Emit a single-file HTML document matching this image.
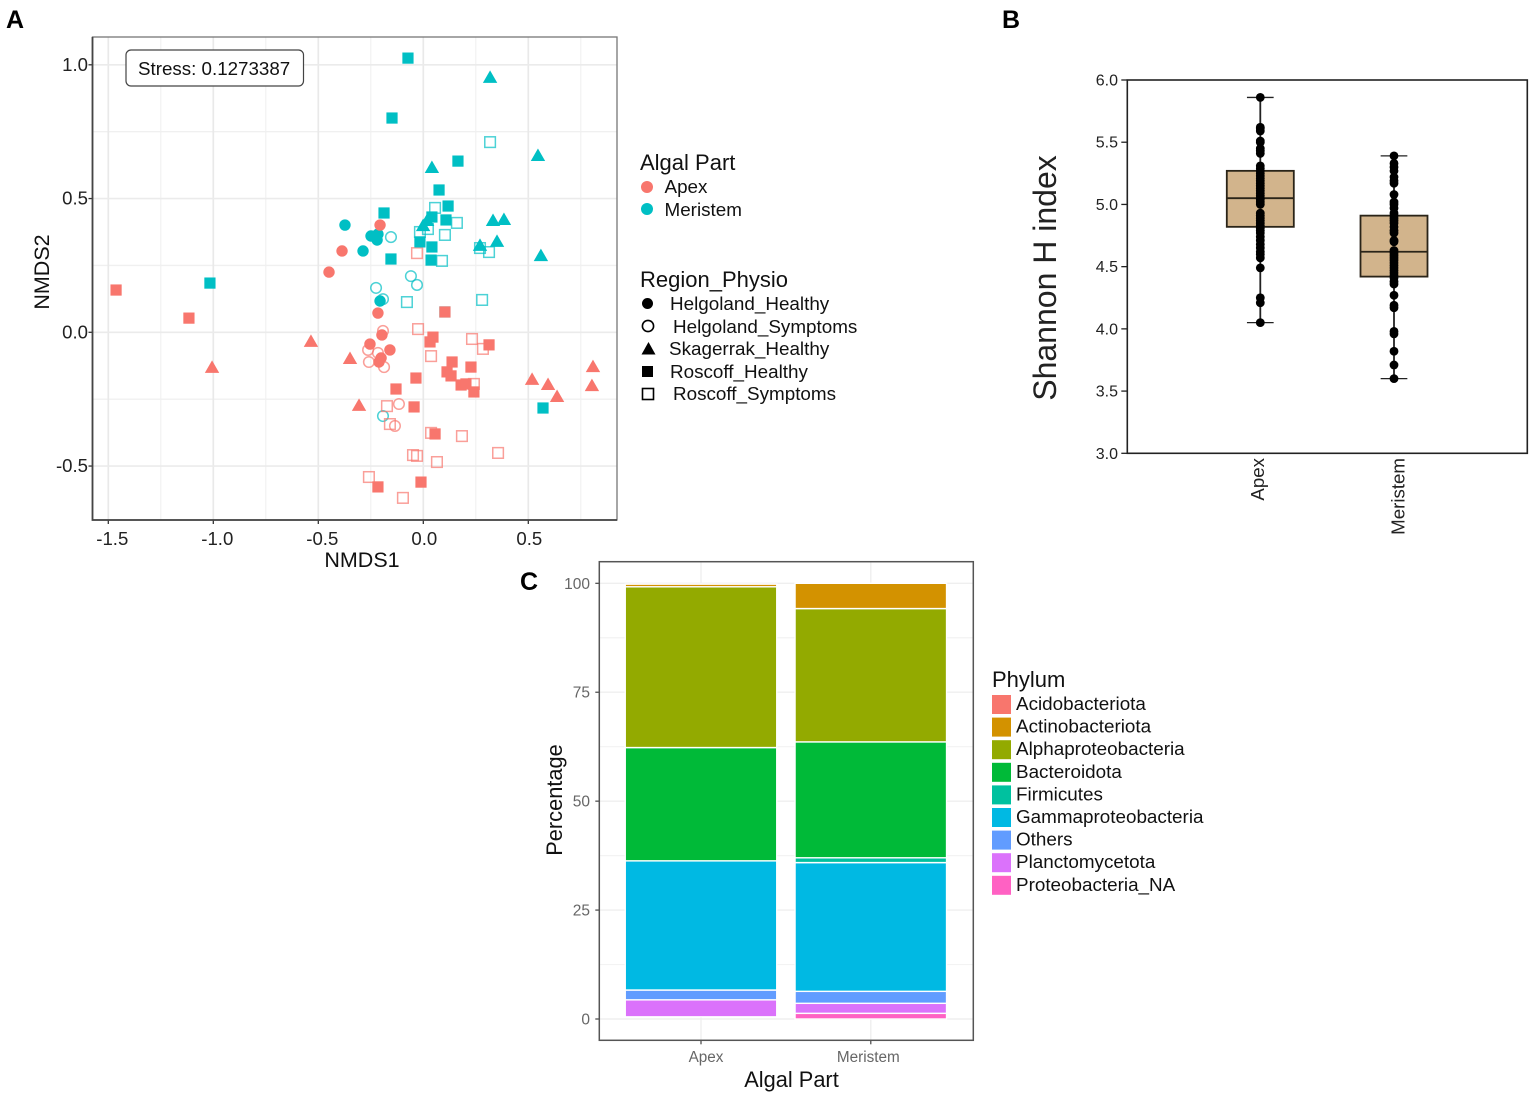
<!DOCTYPE html>
<html lang="en">
<head>
<meta charset="utf-8">
<title>NMDS, Shannon index and phylum composition</title>
<style>
html,body{margin:0;padding:0;background:#fff;width:1535px;height:1095px;overflow:hidden}
svg{display:block;position:absolute;left:0;top:0;filter:blur(0.35px)}
text{font-family:"Liberation Sans",Arial,sans-serif}
.letter{font-size:25px;font-weight:bold;fill:#000}
.lg-title{font-size:22px}
.lg-item{font-size:18.85px}
</style>
</head>
<body>
<svg id="figure" xmlns="http://www.w3.org/2000/svg" width="1535" height="1095" viewBox="0 0 1535 1095" fill="#111">
  <text class="letter" x="6" y="28">A</text>
  <text class="letter" x="1002" y="28">B</text>
  <text class="letter" x="520" y="590">C</text>

  <g id="panelA"></g>
  <g id="panelB"></g>
  <g id="panelC"></g>

  <g>
    <text class="lg-title" x="640" y="170">Algal Part</text>
    <circle cx="647" cy="187" r="6" fill="#F8766D"/>
    <text class="lg-item" x="664.5" y="193">Apex</text>
    <circle cx="647" cy="209" r="6" fill="#00BFC4"/>
    <text class="lg-item" x="664.5" y="216">Meristem</text>
  </g>
  <g>
    <text class="lg-title" x="640" y="287">Region_Physio</text>
    <circle cx="647.5" cy="303.5" r="5.5" fill="#000"/>
    <text class="lg-item" x="670" y="310">Helgoland_Healthy</text>
    <circle cx="648" cy="326" r="5.6" fill="none" stroke="#000" stroke-width="1.6"/>
    <text class="lg-item" x="673" y="333">Helgoland_Symptoms</text>
    <polygon points="648.5,342 655.5,354.5 641.5,354.5" fill="#000"/>
    <text class="lg-item" x="669" y="355">Skagerrak_Healthy</text>
    <rect x="642" y="366" width="11" height="11" fill="#000"/>
    <text class="lg-item" x="670" y="378">Roscoff_Healthy</text>
    <rect x="642.5" y="388.5" width="11" height="11" fill="none" stroke="#000" stroke-width="1.6"/>
    <text class="lg-item" x="673" y="400">Roscoff_Symptoms</text>
  </g>
  <g>
    <text class="lg-title" x="992" y="687">Phylum</text>
    <rect x="992" y="695" width="19" height="19" fill="#F8766D"/>
    <text class="lg-item" x="1016" y="710">Acidobacteriota</text>
    <rect x="992" y="717.6" width="19" height="19" fill="#D39200"/>
    <text class="lg-item" x="1016" y="732.6">Actinobacteriota</text>
    <rect x="992" y="740.2" width="19" height="19" fill="#93AA00"/>
    <text class="lg-item" x="1016" y="755.2">Alphaproteobacteria</text>
    <rect x="992" y="762.8" width="19" height="19" fill="#00BA38"/>
    <text class="lg-item" x="1016" y="777.8">Bacteroidota</text>
    <rect x="992" y="785.4" width="19" height="19" fill="#00C19F"/>
    <text class="lg-item" x="1016" y="800.4">Firmicutes</text>
    <rect x="992" y="808" width="19" height="19" fill="#00B9E3"/>
    <text class="lg-item" x="1016" y="823">Gammaproteobacteria</text>
    <rect x="992" y="830.6" width="19" height="19" fill="#619CFF"/>
    <text class="lg-item" x="1016" y="845.6">Others</text>
    <rect x="992" y="853.2" width="19" height="19" fill="#DB72FB"/>
    <text class="lg-item" x="1016" y="868.2">Planctomycetota</text>
    <rect x="992" y="875.8" width="19" height="19" fill="#FF61C3"/>
    <text class="lg-item" x="1016" y="890.8">Proteobacteria_NA</text>
  </g>
</svg>

<script>
/* ---------- Panel A data: NMDS1, NMDS2 per sample ---------- */
const nmdsMajorTicks = [-1.5, -1.0, -0.5, 0.0, 0.5];
const nmdsYTicks = [-0.5, 0.0, 0.5, 1.0];
const nmdsXMinor = [-1.25, -0.75, -0.25, 0.25, 0.75];
const nmdsYMinor = [-0.25, 0.25, 0.75];
const meristemRoscoffSymptoms = [[0.318,0.711],[0.056,0.465],[0.160,0.409],[-0.016,0.375],[0.022,0.386],[0.103,0.364],[0.270,0.315],[0.313,0.300],[0.089,0.267],[-0.078,0.113],[0.280,0.121]];
const meristemHelgolandSymptoms = [[-0.154,0.356],[-0.059,0.210],[-0.225,0.166],[-0.030,0.177],[-0.192,0.124],[-0.192,-0.313]];
const apexRoscoffSymptoms = [[-0.030,0.296],[-0.025,0.012],[0.232,-0.025],[0.284,-0.062],[0.037,-0.089],[0.241,-0.193],[-0.173,-0.276],[-0.159,-0.343],[0.037,-0.376],[0.184,-0.388],[0.356,-0.451],[-0.049,-0.459],[-0.030,-0.462],[0.065,-0.485],[-0.259,-0.541],[-0.097,-0.619]];
const apexHelgolandSymptoms = [[-0.192,0.005],[-0.263,-0.066],[-0.216,-0.077],[-0.259,-0.111],[-0.187,-0.130],[-0.116,-0.268],[-0.135,-0.350]];
const meristemRoscoffHealthy = [[-0.073,1.025],[-0.149,0.801],[0.165,0.640],[0.075,0.532],[0.118,0.472],[-0.187,0.446],[0.041,0.431],[0.108,0.420],[-0.016,0.338],[0.041,0.319],[-0.154,0.274],[0.037,0.270],[-1.016,0.184],[0.570,-0.283],[0.103,0.076]];
const meristemSkagerrakHealthy = [[0.318,0.951],[0.546,0.659],[0.041,0.614],[0.332,0.416],[0.384,0.420],[0.018,0.416],[-0.001,0.397],[0.270,0.323],[0.351,0.338],[0.560,0.285]];
const meristemHelgolandHealthy = [[-0.373,0.401],[-0.287,0.304],[-0.249,0.360],[-0.220,0.345],[-0.216,0.367],[-0.206,0.117]];
const apexHelgolandHealthy = [[-0.206,0.401],[-0.387,0.304],[-0.449,0.225],[-0.216,0.072],[-0.197,-0.010],[-0.254,-0.044],[-0.159,-0.066],[-0.211,-0.111],[-0.201,-0.096]];
const apexSkagerrakHealthy = [[-0.535,-0.036],[-0.349,-0.100],[-1.006,-0.133],[-0.306,-0.275],[0.518,-0.178],[0.594,-0.197],[0.637,-0.242],[0.808,-0.130],[0.803,-0.201]];
const apexRoscoffHealthy = [[-1.463,0.158],[-1.116,0.053],[0.103,0.076],[0.046,-0.018],[0.032,-0.036],[0.313,-0.047],[0.137,-0.111],[0.227,-0.130],[0.113,-0.148],[0.132,-0.163],[-0.035,-0.171],[0.180,-0.197],[0.203,-0.193],[0.241,-0.223],[-0.130,-0.212],[-0.044,-0.279],[0.056,-0.380],[-0.216,-0.578],[-0.011,-0.560]];
const stressLabel = "Stress: 0.1273387";

/* ---------- Panel B data ---------- */
const boxCategories = ["Apex", "Meristem"];
const boxYTicks = [3.0, 3.5, 4.0, 4.5, 5.0, 5.5, 6.0];
const boxQ1 = [4.82, 4.42];
const boxMedian = [5.05, 4.62];
const boxQ3 = [5.27, 4.91];
const boxWhiskerLow = [4.05, 3.60];
const boxWhiskerHigh = [5.86, 5.39];
const apexShannon = [5.86,5.62,5.61,5.59,5.51,5.50,5.45,5.43,5.41,5.31,5.29,5.27,5.25,5.23,5.21,5.19,5.17,5.15,5.13,5.11,5.09,5.07,5.05,5.04,5.02,5.00,4.93,4.91,4.89,4.87,4.85,4.83,4.81,4.79,4.77,4.74,4.71,4.68,4.65,4.62,4.60,4.57,4.49,4.25,4.21,4.05];
const meristemShannon = [5.39,5.33,5.30,5.27,5.22,5.19,5.17,5.08,5.02,5.00,4.97,4.93,4.91,4.89,4.87,4.85,4.82,4.79,4.77,4.71,4.70,4.63,4.61,4.59,4.57,4.55,4.53,4.51,4.49,4.47,4.45,4.43,4.41,4.38,4.36,4.27,4.19,4.17,3.98,3.96,3.82,3.71,3.60];

/* ---------- Panel C data: stacked from the bottom up ---------- */
const barCategories = ["Apex", "Meristem"];
const barYTicks = [0, 25, 50, 75, 100];
const barYMinor = [12.5, 37.5, 62.5, 87.5];
const barStackBase = [0.5, 0];
const proteobacteriaNA = [0, 1.3];
const planctomycetota = [3.9, 2.3];
const others = [2.25, 2.75];
const gammaproteobacteria = [29.65, 29.55];
const firmicutes = [0, 1.1];
const bacteroidota = [26, 26.6];
const alphaproteobacteria = [36.9, 30.6];
const actinobacteriota = [0.6, 5.8];
const acidobacteriota = [0, 0];

const NS = "http://www.w3.org/2000/svg";
function mk(tag, attrs, parent, txt) {
  const el = document.createElementNS(NS, tag);
  for (const k in attrs) el.setAttribute(k, attrs[k]);
  if (txt !== undefined) el.textContent = txt;
  parent.appendChild(el);
  return el;
}
function slug(v) { return String(v).replace(/[^0-9a-zA-Z]+/g, "-").replace(/^-|-$/g, "").toLowerCase(); }

/* ---------- Panel A ---------- */
(function () {
  const g = document.getElementById("panelA");
  const L = 92.5, R = 617, T = 37, B = 520;
  const sx = v => 423.3 + 210 * v;
  const sy = v => 332.3 - 267.5 * v;
  let el;
  nmdsXMinor.forEach(v => {
    el = mk("line", {x1: sx(v), x2: sx(v), y1: T, y2: B, stroke: "#f1f1f1", "stroke-width": 1.2}, g);
    
    
  });
  nmdsYMinor.forEach(v => {
    el = mk("line", {x1: L, x2: R, y1: sy(v), y2: sy(v), stroke: "#f0f0f0", "stroke-width": 1.4}, g);
    
    
  });
  nmdsMajorTicks.forEach(v => {
    el = mk("line", {x1: sx(v), x2: sx(v), y1: T, y2: B, stroke: "#e9e9e9", "stroke-width": 1.7}, g);
    
    
    el = mk("line", {x1: sx(v), x2: sx(v), y1: B, y2: B + 4, stroke: "#333", "stroke-width": 1.3}, g);
    
    
    el = mk("text", {x: sx(v) + (v < 0 ? 4 : 1), y: 545, "text-anchor": "middle", "font-size": 18.6, fill: "#222"}, g, v.toFixed(1));
    
    
  });
  nmdsYTicks.forEach(v => {
    el = mk("line", {x1: L, x2: R, y1: sy(v), y2: sy(v), stroke: "#ebebeb", "stroke-width": 1.6}, g);
    
    
    el = mk("line", {x1: L - 4, x2: L, y1: sy(v), y2: sy(v), stroke: "#333", "stroke-width": 1.3}, g);
    
    
    el = mk("text", {x: 88, y: sy(v) + 6, "text-anchor": "end", "font-size": 18.6, fill: "#222"}, g, v.toFixed(1));
    
    
  });

  const groups = [
    [meristemRoscoffSymptoms, "square", true, "#00BFC4", "meristem-roscoff-symptoms"],
    [meristemHelgolandSymptoms, "circle", true, "#00BFC4", "meristem-helgoland-symptoms"],
    [apexRoscoffSymptoms, "square", true, "#F8766D", "apex-roscoff-symptoms"],
    [apexHelgolandSymptoms, "circle", true, "#F8766D", "apex-helgoland-symptoms"],
    [meristemRoscoffHealthy, "square", false, "#00BFC4", "meristem-roscoff-healthy"],
    [meristemSkagerrakHealthy, "triangle", false, "#00BFC4", "meristem-skagerrak-healthy"],
    [meristemHelgolandHealthy, "circle", false, "#00BFC4", "meristem-helgoland-healthy"],
    [apexHelgolandHealthy, "circle", false, "#F8766D", "apex-helgoland-healthy"],
    [apexSkagerrakHealthy, "triangle", false, "#F8766D", "apex-skagerrak-healthy"],
    [apexRoscoffHealthy, "square", false, "#F8766D", "apex-roscoff-healthy"]
  ];
  groups.forEach(([pts, shape, open, col, name]) => {
    pts.forEach(p => {
      const cx = sx(p[0]), cy = sy(p[1]);
      const paint = open
        ? {fill: "none", stroke: col, "stroke-width": 1.5, "stroke-opacity": 0.7}
        : {fill: col};
      let m;
      if (shape === "circle") m = mk("circle", Object.assign({cx: cx, cy: cy, r: open ? 5.3 : 5.7}, paint), g);
      else if (shape === "square") m = mk("rect", Object.assign({x: cx - (open ? 5.3 : 5.6), y: cy - (open ? 5.3 : 5.6), width: open ? 10.6 : 11.2, height: open ? 10.6 : 11.2}, paint), g);
      else m = mk("polygon", Object.assign({points: [[cx, cy - 7.5], [cx + 7.2, cy + 5], [cx - 7.2, cy + 5]].map(q => q.join(",")).join(" ")}, paint), g);
      
      
    });
  });

  el = mk("rect", {x: L, y: T, width: R - L, height: B - T, fill: "none", stroke: "#777", "stroke-width": 1.3}, g);
  
  
  el = mk("path", {d: `M${L} ${T}V${B}H${R}`, fill: "none", stroke: "#444", "stroke-width": 1.8}, g);
  
  
  el = mk("rect", {x: 126, y: 50, width: 177.5, height: 36, rx: 5, ry: 5, fill: "#fff", stroke: "#444", "stroke-width": 1.2}, g);
  
  
  el = mk("text", {x: 138, y: 75, "font-size": 18.75, fill: "#111"}, g, stressLabel);
  
  
  el = mk("text", {x: 362, y: 567, "text-anchor": "middle", "font-size": 21.5}, g, "NMDS1");
  
  
  el = mk("text", {transform: "translate(49 272) rotate(-90)", "text-anchor": "middle", "font-size": 21.5}, g, "NMDS2");
  
  
})();

/* ---------- Panel B ---------- */
(function () {
  const g = document.getElementById("panelB");
  const L = 1127.3, R = 1527.3, T = 80, B = 453.3;
  const sy = v => B - (v - 3) * (B - T) / 3;
  const sx = i => 1260.3 + i * 133.7;
  const series = [apexShannon, meristemShannon];
  const boxW = 67, capW = 26.7;
  let el;
  el = mk("rect", {x: L, y: T, width: R - L, height: B - T, fill: "#fff", stroke: "#222", "stroke-width": 1.6}, g);
  
  
  boxYTicks.forEach(v => {
    el = mk("line", {x1: L - 6, x2: L, y1: sy(v), y2: sy(v), stroke: "#222", "stroke-width": 1.3}, g);
    
    
    el = mk("text", {x: 1118, y: sy(v) + 5.5, "text-anchor": "end", "font-size": 16, fill: "#222"}, g, v.toFixed(1));
    
    
  });
  boxCategories.forEach((c, i) => {
    const cx = sx(i);
    el = mk("line", {x1: cx, x2: cx, y1: sy(boxWhiskerHigh[i]), y2: sy(boxWhiskerLow[i]), stroke: "#222", "stroke-width": 1.8}, g);
    
    
    [boxWhiskerHigh[i], boxWhiskerLow[i]].forEach(w => {
      el = mk("line", {x1: cx - capW / 2, x2: cx + capW / 2, y1: sy(w), y2: sy(w), stroke: "#222", "stroke-width": 1.3}, g);
      
      
    });
    el = mk("rect", {x: cx - boxW / 2, y: sy(boxQ3[i]), width: boxW, height: sy(boxQ1[i]) - sy(boxQ3[i]), fill: "#D2B48C", stroke: "#2a2418", "stroke-width": 1.8}, g);
    
    
    el = mk("line", {x1: cx - boxW / 2, x2: cx + boxW / 2, y1: sy(boxMedian[i]), y2: sy(boxMedian[i]), stroke: "#2a2418", "stroke-width": 1.8}, g);
    
    
    series[i].forEach(v => {
      el = mk("circle", {cx: cx, cy: sy(v), r: 4.4, fill: "#000"}, g);
      
      
    });
    const labelX = i === 0 ? cx + 3.5 : cx + 10.5;
    el = mk("text", {transform: `translate(${labelX} 458) rotate(-90)`, "text-anchor": "end", "font-size": 18.7, fill: "#222"}, g, c);
    
    
  });
  el = mk("text", {transform: "translate(1056 278) rotate(-90)", "text-anchor": "middle", "font-size": 32, fill: "#222"}, g, "Shannon H index");
  
  
})();

/* ---------- Panel C ---------- */
(function () {
  const g = document.getElementById("panelC");
  const L = 599.3, R = 973.3, T = 561.7, B = 1040.3;
  const sy = v => 1019 - 4.357 * v;
  const barCentres = i => 701 + i * 169.8;
  const barW = 151.5;
  const stack = [
    [proteobacteriaNA, "#FF61C3", "proteobacteria-na"],
    [planctomycetota, "#DB72FB", "planctomycetota"],
    [others, "#619CFF", "others"],
    [gammaproteobacteria, "#00B9E3", "gammaproteobacteria"],
    [firmicutes, "#00C19F", "firmicutes"],
    [bacteroidota, "#00BA38", "bacteroidota"],
    [alphaproteobacteria, "#93AA00", "alphaproteobacteria"],
    [actinobacteriota, "#D39200", "actinobacteriota"],
    [acidobacteriota, "#F8766D", "acidobacteriota"]
  ];
  let el;
  barYMinor.forEach(v => {
    el = mk("line", {x1: L, x2: R, y1: sy(v), y2: sy(v), stroke: "#f3f3f3", "stroke-width": 1.2}, g);
    
    
  });
  barYTicks.forEach(v => {
    el = mk("line", {x1: L, x2: R, y1: sy(v), y2: sy(v), stroke: "#efefef", "stroke-width": 1.4}, g);
    
    
    el = mk("line", {x1: L - 4, x2: L, y1: sy(v), y2: sy(v), stroke: "#444", "stroke-width": 1.2}, g);
    
    
    el = mk("text", {x: 590, y: sy(v) + 5.5, "text-anchor": "end", "font-size": 15.5, fill: "#666"}, g, String(v));
    
    
  });
  barCategories.forEach((c, i) => {
    const cx = barCentres(i);
    el = mk("line", {x1: cx, x2: cx, y1: T, y2: B, stroke: "#efefef", "stroke-width": 1.4}, g);
    
    
    el = mk("line", {x1: cx, x2: cx, y1: B, y2: B + 4, stroke: "#444", "stroke-width": 1.2}, g);
    
    
    el = mk("text", {x: cx + (i === 0 ? 5 : -2.5), y: 1062, "text-anchor": "middle", "font-size": 15.3, fill: "#666"}, g, c);
    
    
  });
  barCategories.forEach((c, i) => {
    let base = barStackBase[i];
    stack.forEach(([vals, col, name]) => {
      const v = vals[i];
      if (v > 0) {
        const top = base + v;
        el = mk("rect", {x: barCentres(i) - barW / 2, y: sy(top), width: barW, height: sy(base) - sy(top), fill: col, stroke: "#fff", "stroke-width": 1.4}, g);
        
        
      }
      base += v;
    });
  });
  el = mk("rect", {x: L, y: T, width: R - L, height: B - T, fill: "none", stroke: "#555", "stroke-width": 1.5}, g);
  
  
  el = mk("text", {x: 791.5, y: 1087, "text-anchor": "middle", "font-size": 21.8}, g, "Algal Part");
  
  
  el = mk("text", {transform: "translate(562 800) rotate(-90)", "text-anchor": "middle", "font-size": 21.8}, g, "Percentage");
  
  
})();
</script>
</body>
</html>
